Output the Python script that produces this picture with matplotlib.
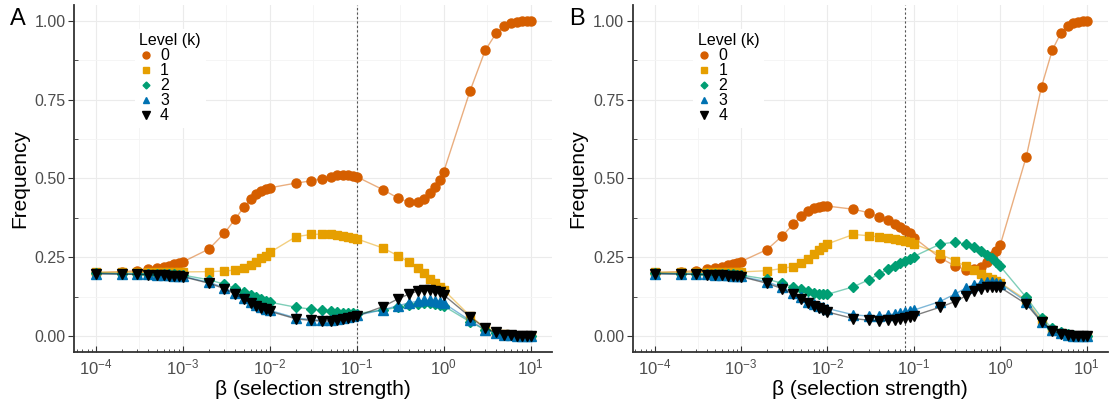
import matplotlib
matplotlib.use("Agg")
import matplotlib.pyplot as plt
from matplotlib.lines import Line2D
from matplotlib.ticker import FixedLocator, LogLocator, NullFormatter

plt.rcParams['font.family'] = ['Liberation Sans', 'DejaVu Sans']
plt.rcParams['mathtext.fontset'] = 'custom'
plt.rcParams['mathtext.rm'] = 'Liberation Sans'
plt.rcParams['mathtext.it'] = 'Liberation Sans:italic'

# selection strength grid
beta = [1e-4, 2e-4, 3e-4, 4e-4, 5e-4, 6e-4, 7e-4, 8e-4, 9e-4,
        1e-3, 2e-3, 3e-3, 4e-3, 5e-3, 6e-3, 7e-3, 8e-3, 9e-3,
        1e-2, 2e-2, 3e-2, 4e-2, 5e-2, 6e-2, 7e-2, 8e-2, 9e-2,
        0.1, 0.2, 0.3, 0.4, 0.5, 0.6, 0.7, 0.8, 0.9,
        1, 2, 3, 4, 5, 6, 7, 8, 9,
        10]

levels = ['0', '1', '2', '3', '4']

# panel A
a_k0 = [0.201, 0.204, 0.207, 0.211, 0.215, 0.219, 0.223, 0.227, 0.231,
        0.235, 0.276, 0.326, 0.371, 0.408, 0.433, 0.449, 0.459, 0.465,
        0.470, 0.485, 0.492, 0.499, 0.505, 0.510, 0.512, 0.511, 0.508,
        0.505, 0.464, 0.437, 0.424, 0.424, 0.433, 0.452, 0.471, 0.495,
        0.521, 0.776, 0.906, 0.960, 0.983, 0.992, 0.996, 0.998, 0.999,
        1.0]
a_k1 = [0.202, 0.202, 0.202, 0.202, 0.202, 0.202, 0.202, 0.202, 0.202,
        0.203, 0.204, 0.206, 0.209, 0.217, 0.225, 0.236, 0.246, 0.255,
        0.265, 0.315, 0.322, 0.323, 0.322, 0.320, 0.317, 0.314, 0.311,
        0.308, 0.279, 0.254, 0.234, 0.217, 0.199, 0.182, 0.167, 0.156,
        0.146, 0.064, 0.026, 0.011, 0.005, 0.002, 0.001, 0.0, 0.0,
        0.0]
a_k2 = [0.199, 0.198, 0.198, 0.197, 0.197, 0.196, 0.195, 0.195, 0.194,
        0.193, 0.178, 0.164, 0.151, 0.138, 0.130, 0.123, 0.116, 0.111,
        0.107, 0.091, 0.085, 0.081, 0.078, 0.076, 0.074, 0.073, 0.072,
        0.071, 0.082, 0.091, 0.098, 0.101, 0.103, 0.103, 0.101, 0.098,
        0.095, 0.045, 0.019, 0.008, 0.004, 0.002, 0.001, 0.0, 0.0,
        0.0]
a_k3 = [0.198, 0.197, 0.196, 0.195, 0.194, 0.193, 0.192, 0.191, 0.190,
        0.189, 0.170, 0.153, 0.135, 0.120, 0.109, 0.099, 0.093, 0.087,
        0.081, 0.057, 0.052, 0.050, 0.051, 0.053, 0.056, 0.059, 0.062,
        0.065, 0.083, 0.096, 0.105, 0.110, 0.113, 0.114, 0.112, 0.109,
        0.104, 0.049, 0.020, 0.009, 0.004, 0.002, 0.001, 0.0, 0.0,
        0.0]
a_k4 = [0.197, 0.196, 0.195, 0.194, 0.193, 0.192, 0.191, 0.190, 0.189,
        0.188, 0.167, 0.150, 0.132, 0.117, 0.106, 0.096, 0.090, 0.084,
        0.078, 0.054, 0.049, 0.047, 0.048, 0.050, 0.053, 0.056, 0.059,
        0.063, 0.093, 0.118, 0.133, 0.142, 0.145, 0.145, 0.143, 0.138,
        0.130, 0.061, 0.024, 0.011, 0.004, 0.002, 0.001, 0.0, 0.0,
        0.0]

# panel B
b_k0 = [0.201, 0.204, 0.207, 0.211, 0.216, 0.220, 0.224, 0.228, 0.232,
        0.236, 0.274, 0.317, 0.354, 0.381, 0.397, 0.405, 0.409, 0.411,
        0.412, 0.402, 0.391, 0.377, 0.367, 0.355, 0.345, 0.335, 0.326,
        0.312, 0.248, 0.222, 0.210, 0.211, 0.220, 0.233, 0.253, 0.270,
        0.289, 0.569, 0.791, 0.907, 0.960, 0.983, 0.993, 0.997, 0.999,
        1.0]
b_k1 = [0.202, 0.202, 0.202, 0.202, 0.202, 0.202, 0.202, 0.202, 0.202,
        0.203, 0.207, 0.214, 0.220, 0.230, 0.245, 0.259, 0.273, 0.283,
        0.292, 0.322, 0.318, 0.314, 0.310, 0.307, 0.304, 0.301, 0.297,
        0.292, 0.260, 0.238, 0.221, 0.208, 0.196, 0.186, 0.180, 0.174,
        0.169, 0.114, 0.049, 0.019, 0.008, 0.003, 0.001, 0.0, 0.0,
        0.0]
b_k2 = [0.199, 0.198, 0.198, 0.197, 0.197, 0.196, 0.195, 0.195, 0.194,
        0.193, 0.180, 0.167, 0.156, 0.148, 0.142, 0.137, 0.134, 0.133,
        0.132, 0.156, 0.178, 0.197, 0.211, 0.222, 0.230, 0.238, 0.244,
        0.252, 0.291, 0.298, 0.291, 0.282, 0.271, 0.258, 0.247, 0.234,
        0.221, 0.122, 0.058, 0.024, 0.011, 0.005, 0.002, 0.001, 0.0,
        0.0]
b_k3 = [0.198, 0.197, 0.196, 0.195, 0.194, 0.193, 0.192, 0.191, 0.190,
        0.189, 0.172, 0.154, 0.137, 0.122, 0.109, 0.101, 0.096, 0.091,
        0.087, 0.067, 0.063, 0.064, 0.067, 0.070, 0.073, 0.076, 0.079,
        0.082, 0.109, 0.133, 0.152, 0.163, 0.169, 0.171, 0.171, 0.169,
        0.166, 0.109, 0.045, 0.019, 0.008, 0.003, 0.001, 0.0, 0.0,
        0.0]
b_k4 = [0.197, 0.196, 0.195, 0.194, 0.193, 0.192, 0.191, 0.190, 0.189,
        0.188, 0.167, 0.150, 0.132, 0.116, 0.104, 0.095, 0.089, 0.082,
        0.076, 0.055, 0.050, 0.048, 0.049, 0.051, 0.054, 0.057, 0.060,
        0.064, 0.091, 0.109, 0.127, 0.141, 0.149, 0.154, 0.156, 0.156,
        0.154, 0.101, 0.044, 0.017, 0.006, 0.002, 0.001, 0.0, 0.0,
        0.0]

vline_a = 0.1
vline_b = 0.079

colors = ['#D55E00', '#E69F00', '#009E73', '#0072B2', '#000000']
markers = ['o', 's', 'D', '^', 'v']
msizes = [6.5, 5.5, 5, 6.5, 7]

fig = plt.figure(figsize=(11.09, 4.0), dpi=100)
axA = fig.add_axes([0.0667, 0.1208, 0.431, 0.8667])
axB = fig.add_axes([0.5705, 0.1208, 0.4285, 0.8667])


def draw_panel(ax, series, vx, label):
    for k, ys in enumerate(series):
        ax.plot(beta, ys, color=colors[k], lw=1.0, alpha=0.5, zorder=2 + k)
        ax.plot(beta, ys, ls='none', marker=markers[k], ms=msizes[k],
                color=colors[k], mec=colors[k], zorder=3 + k)
    ax.axvline(vx, color='#555555', ls=(0, (2, 2)), lw=0.8, zorder=1)

    ax.set_xscale('log')
    ax.set_xlim(10 ** -4.253, 10 ** 1.245)
    ax.set_ylim(-0.05, 1.05)
    ax.set_xticks([1e-4, 1e-3, 1e-2, 1e-1, 1, 10])
    ax.set_xticklabels([r'$10^{-4}$', r'$10^{-3}$', r'$10^{-2}$',
                        r'$10^{-1}$', r'$10^{0}$', r'$10^{1}$'])
    ax.xaxis.set_minor_locator(LogLocator(base=10, subs=range(2, 10)))
    ax.xaxis.set_minor_formatter(NullFormatter())
    ax.set_yticks([0, 0.25, 0.5, 0.75, 1.0])
    ax.set_yticklabels(['0.00', '0.25', '0.50', '0.75', '1.00'])
    ax.yaxis.set_minor_locator(FixedLocator([0.125, 0.375, 0.625, 0.875]))

    # grid lines
    for gx in [1e-4, 1e-3, 1e-2, 1e-1, 1, 10]:
        ax.axvline(gx, color='#ebebeb', lw=0.8, zorder=0)
    for gx in [10 ** -3.5, 10 ** -2.5, 10 ** -1.5, 10 ** -0.5, 10 ** 0.5]:
        ax.axvline(gx, color='#f4f4f4', lw=0.6, zorder=0)
    for gy in [0, 0.25, 0.5, 0.75, 1.0]:
        ax.axhline(gy, color='#ebebeb', lw=0.8, zorder=0)
    for gy in [0.125, 0.375, 0.625, 0.875]:
        ax.axhline(gy, color='#f4f4f4', lw=0.6, zorder=0)

    for s in ['top', 'right']:
        ax.spines[s].set_visible(False)
    for s in ['left', 'bottom']:
        ax.spines[s].set_color('#333333')
        ax.spines[s].set_linewidth(1.3)

    ax.tick_params(axis='y', which='major', direction='out', length=4,
                   color='#333333', labelcolor='#4d4d4d', labelsize=11.5,
                   pad=2)
    ax.tick_params(axis='y', which='minor', direction='in', length=3,
                   color='#333333')
    ax.tick_params(axis='x', which='major', direction='in', length=4,
                   color='#333333', labelcolor='#4d4d4d', labelsize=12, pad=4)
    ax.tick_params(axis='x', which='minor', direction='in', length=2.5,
                   color='#333333')

    ax.set_xlabel('β (selection strength)', fontsize=15, labelpad=2)
    ax.set_ylabel('Frequency', fontsize=15, labelpad=4)

    handles = [Line2D([], [], ls='none', marker=markers[k], ms=msizes[k] - 1.5,
                      color=colors[k]) for k in range(5)]
    leg = ax.legend(handles, levels, title='Level (k)', loc='upper left',
                    bbox_to_anchor=(0.11, 0.955), fontsize=11.5,
                    title_fontsize=11.5, frameon=True, facecolor='white',
                    edgecolor='none', framealpha=1, labelspacing=0.0,
                    handlelength=0.8, handletextpad=0.5, borderpad=0.3)
    leg._legend_box.align = 'left'
    leg.set_zorder(10)

    ax.text(-0.134, 0.942, label, transform=ax.transAxes, fontsize=17,
            ha='left', va='baseline')


draw_panel(axA, [a_k0, a_k1, a_k2, a_k3, a_k4], vline_a, 'A')
draw_panel(axB, [b_k0, b_k1, b_k2, b_k3, b_k4], vline_b, 'B')

fig.savefig('out.png', dpi=100)
